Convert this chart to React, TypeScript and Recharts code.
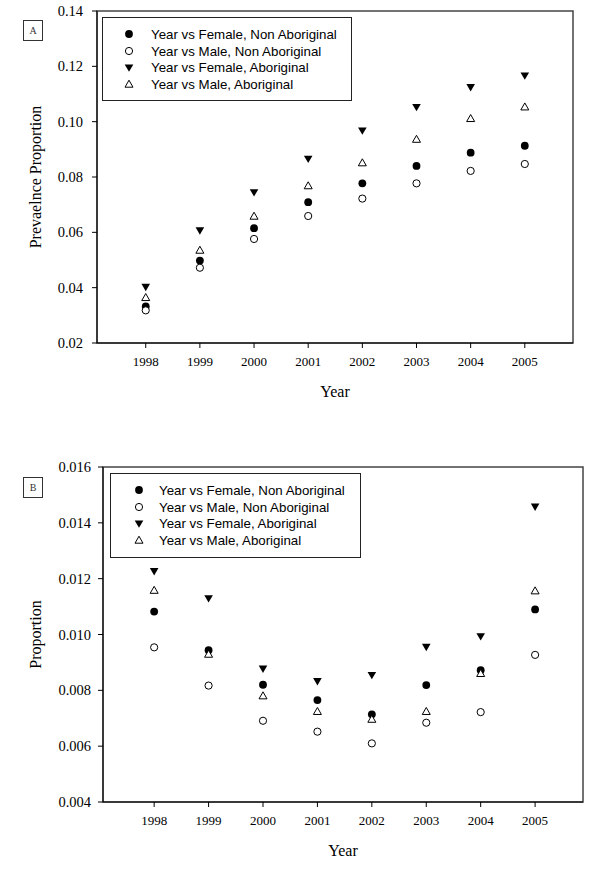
import React from 'react';
import { ScatterChart, Scatter, XAxis, YAxis, Legend, ReferenceArea } from 'recharts';

// ---------- data ----------
const years = [1998, 1999, 2000, 2001, 2002, 2003, 2004, 2005];

const seriesNames = [
  'Year vs Female, Non Aboriginal',
  'Year vs Male, Non Aboriginal',
  'Year vs Female, Aboriginal',
  'Year vs Male, Aboriginal',
];
const seriesMarkers = ['dot', 'ring', 'down', 'up'];

// Panel A: prevalence proportion
const aFemaleNonAb = [0.0332, 0.0498, 0.0615, 0.0709, 0.0777, 0.084, 0.0888, 0.0913];
const aMaleNonAb = [0.0318, 0.0472, 0.0576, 0.0659, 0.0722, 0.0777, 0.0822, 0.0847];
const aFemaleAb = [0.0401, 0.0605, 0.0743, 0.0864, 0.0966, 0.1051, 0.1123, 0.1165];
const aMaleAb = [0.0365, 0.0536, 0.0659, 0.0769, 0.0852, 0.0937, 0.1012, 0.1054];
const aYTicks = [0.02, 0.04, 0.06, 0.08, 0.1, 0.12, 0.14];

// Panel B: proportion
const bFemaleNonAb = [0.01082, 0.00944, 0.0082, 0.00765, 0.00714, 0.00819, 0.00872, 0.0109];
const bMaleNonAb = [0.00954, 0.00817, 0.00691, 0.00652, 0.0061, 0.00684, 0.00722, 0.00927];
const bFemaleAb = [0.01225, 0.01128, 0.00876, 0.00831, 0.00853, 0.00954, 0.00992, 0.01456];
const bMaleAb = [0.01159, 0.0093, 0.00781, 0.00725, 0.00697, 0.00725, 0.00861, 0.01157];
const bYTicks = [0.004, 0.006, 0.008, 0.01, 0.012, 0.014, 0.016];

// ---------- helpers ----------
const SERIF = '"Liberation Serif", "Times New Roman", serif';
const SANS = '"Liberation Sans", Arial, sans-serif';

const toPoints = (vals: number[]) => years.map((x, i) => ({ x, y: vals[i] }));

function Marker({ kind, cx, cy }: { kind: string; cx: number; cy: number }) {
  if (kind === 'dot') return <circle cx={cx} cy={cy} r={3.9} fill="#000" />;
  if (kind === 'ring') return <circle cx={cx} cy={cy} r={3.6} fill="#fff" stroke="#000" strokeWidth={1} />;
  if (kind === 'down')
    return <path d={`M${cx - 4.3},${cy - 3.6}L${cx + 4.3},${cy - 3.6}L${cx},${cy + 3.8}Z`} fill="#000" />;
  return (
    <path
      d={`M${cx},${cy - 3.8}L${cx + 4},${cy + 3.2}L${cx - 4},${cy + 3.2}Z`}
      fill="#fff"
      stroke="#000"
      strokeWidth={1}
    />
  );
}

function LegendBox({ boxStyle, markerGap }: any) {
  return (
    <div
      style={{
        border: '1px solid #222',
        background: '#fff',
        boxSizing: 'border-box',
        ...boxStyle,
      }}
    >
      {seriesNames.map((name, idx) => (
        <div
          key={name}
          style={{ display: 'flex', alignItems: 'center', height: 16.7, fontFamily: SANS, fontSize: 13.3, color: '#000' }}
        >
          <svg width={12} height={12} style={{ marginLeft: markerGap[0], marginRight: markerGap[1] }}>
            <Marker kind={seriesMarkers[idx]} cx={6} cy={6} />
          </svg>
          <span style={{ whiteSpace: 'nowrap' }}>{name}</span>
        </div>
      ))}
    </div>
  );
}

function XTick({ x, y, payload }: any) {
  return (
    <text x={x} y={y} dy="0.71em" textAnchor="middle" fontFamily={SERIF} fontSize={13} fill="#000">
      {payload.value}
    </text>
  );
}

function makeYTick(decimals: number) {
  return function YTick({ x, y, payload }: any) {
    return (
      <text x={x} y={y} dy="0.355em" textAnchor="end" fontFamily={SERIF} fontSize={14.5} fill="#000">
        {Number(payload.value).toFixed(decimals)}
      </text>
    );
  };
}

function YLabel({ viewBox, text }: any) {
  const cy = viewBox.y + viewBox.height / 2;
  return (
    <text
      x={41}
      y={cy}
      transform={`rotate(-90 41 ${cy})`}
      textAnchor="middle"
      fontFamily={SERIF}
      fontSize={16}
      fill="#000"
    >
      {text}
    </text>
  );
}

function PanelTag({ letter, top }: { letter: string; top: number }) {
  return (
    <div
      style={{
        position: 'absolute',
        left: 23,
        top,
        width: 20,
        height: 21,
        boxSizing: 'border-box',
        border: '1px solid #333',
        fontFamily: SERIF,
        fontSize: 10,
        lineHeight: '19px',
        textAlign: 'center',
        color: '#333',
      }}
    >
      {letter}
    </div>
  );
}

type PanelProps = {
  top: number;
  series: number[][];
  xDomain: [number, number];
  yDomain: [number, number];
  yTicks: number[];
  decimals: number;
  yLabel: string;
  margin: { top: number; right: number; left: number; bottom: number };
  tickMargin: number;
  legendStyle: React.CSSProperties;
  markerGap: [number, number];
};

function Panel(p: PanelProps) {
  const YTick = makeYTick(p.decimals);
  return (
    <div style={{ position: 'absolute', left: 0, top: p.top, width: 600, height: 437 }}>
      <ScatterChart width={600} height={437} margin={p.margin}>
        <ReferenceArea
          x1={p.xDomain[0]}
          x2={p.xDomain[1]}
          y1={p.yDomain[0]}
          y2={p.yDomain[1]}
          fill="none"
          stroke="#444"
          strokeWidth={1.5}
        />
        <XAxis
          type="number"
          dataKey="x"
          domain={p.xDomain}
          ticks={years}
          allowDataOverflow
          height={60}
          tickSize={5}
          tickMargin={9}
          stroke="#000"
          tick={<XTick />}
          label={{ value: 'Year', position: 'insideBottom', offset: 6, fontFamily: SERIF, fontSize: 16, fill: '#000' }}
        />
        <YAxis
          type="number"
          dataKey="y"
          domain={p.yDomain}
          ticks={p.yTicks}
          allowDataOverflow
          width={60}
          tickSize={5}
          tickMargin={p.tickMargin}
          stroke="#000"
          tick={<YTick />}
          label={<YLabel text={p.yLabel} />}
        />
        <Legend
          layout="vertical"
          align="center"
          verticalAlign="middle"
          wrapperStyle={{ position: 'absolute', ...p.legendStyle }}
          content={() => (
            <LegendBox
              markerGap={p.markerGap}
              boxStyle={{ width: p.legendStyle.width, height: p.legendStyle.height, paddingTop: 8 }}
            />
          )}
        />
        {p.series.map((vals, i) => (
          <Scatter
            key={seriesNames[i]}
            name={seriesNames[i]}
            data={toPoints(vals)}
            fill="#000"
            isAnimationActive={false}
            shape={(s: any) => <Marker kind={seriesMarkers[i]} cx={s.cx} cy={s.cy} />}
          />
        ))}
      </ScatterChart>
    </div>
  );
}

export default function App() {
  return (
    <div style={{ position: 'absolute', left: 0, top: 0, width: 600, height: 874, background: '#fff' }}>
      <Panel
        top={0}
        series={[aFemaleNonAb, aMaleNonAb, aFemaleAb, aMaleAb]}
        xDomain={[1997.1, 2005.89]}
        yDomain={[0.02, 0.14]}
        yTicks={aYTicks}
        decimals={2}
        yLabel="Prevaelnce Proportion"
        margin={{ top: 11, right: 27, left: 37, bottom: 34 }}
        tickMargin={9}
        legendStyle={{ left: 102, top: 17, width: 250, height: 84 }}
        markerGap={[20, 16]}
      />
      <Panel
        top={437}
        series={[bFemaleNonAb, bMaleNonAb, bFemaleAb, bMaleAb]}
        xDomain={[1997.06, 2005.88]}
        yDomain={[0.004, 0.016]}
        yTicks={bYTicks}
        decimals={3}
        yLabel="Proportion"
        margin={{ top: 30, right: 17, left: 43, bottom: 12 }}
        tickMargin={7}
        legendStyle={{ left: 110, top: 36, width: 251, height: 85 }}
        markerGap={[22, 14]}
      />
      <PanelTag letter="A" top={20} />
      <PanelTag letter="B" top={477} />
    </div>
  );
}
